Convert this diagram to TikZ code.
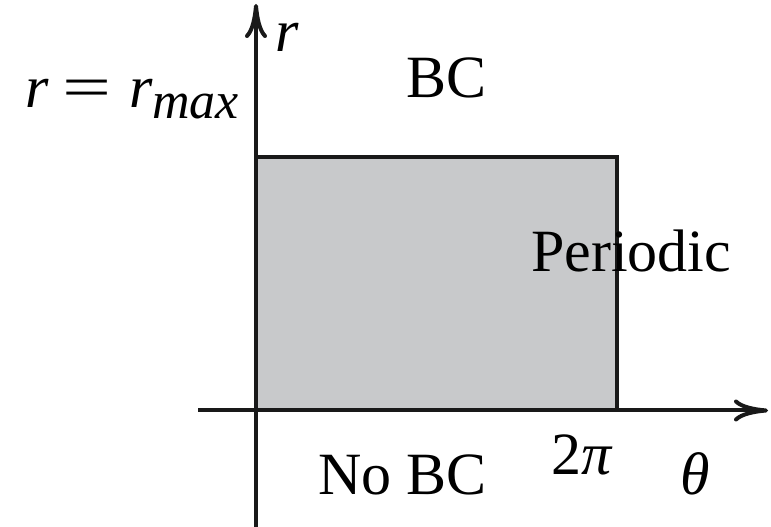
\documentclass[tikz,border=0pt]{standalone}
\usepackage{fontspec}
\usepackage{graphicx}
\setmainfont{Liberation Serif}[ItalicFont={Liberation Serif Italic}]
\newfontfamily\itserif{Liberation Serif Italic}
\usetikzlibrary{arrows.meta}
\definecolor{regiongray}{RGB}{200,201,203}
\newcommand{\wideeq}{\scalebox{1.45}[1]{=}}
\begin{document}
\begin{tikzpicture}[x=1pt,y=1pt,
  axis/.style={line width=4pt,draw=black!90,-{To[length=34pt,width=22pt]}},
  lbl/.style={inner sep=0pt,anchor=base west,font=\fontsize{60}{64}\selectfont},
  eqlbl/.style={inner sep=0pt,anchor=base west,font=\fontsize{60}{64}\selectfont},
  sublbl/.style={inner sep=0pt,anchor=base west,font=\fontsize{52}{56}\selectfont\itserif}]
\useasboundingbox (0,0) rectangle (771,527);
% region
\coordinate (o) at (256,116.5);
\coordinate (tr) at (617,370);
\fill[regiongray] (o) rectangle (tr);
\draw[line width=4pt,draw=black!90] (256,370) -- (tr) -- (617,116.5);
% axes
\coordinate (xs) at (198,116.5);
\coordinate (xe) at (768,116.5);
\coordinate (ys) at (256,0);
\coordinate (ye) at (256,523);
\draw[axis] (xs) -- (xe);
\draw[axis] (ys) -- (ye);
% labels
\node[lbl] (bc) at (406,429) {BC};
\node[lbl] (per) at (531,255) {Periodic};
\node[lbl] (nobc) at (318,32) {No BC};
\node[lbl] (twopi) at (551,52) {2{\itserif π}};
\node[lbl] (theta) at (680,32) {\itserif θ};
\node[lbl] (rlab) at (275,475) {\itserif r};
\node[eqlbl] (req) at (25,419) {{\itserif r}\hspace{14pt}\wideeq\hspace{18pt}{\itserif r}};
\node[sublbl] (rmax) at (req.base east) [xshift=-1pt,yshift=-11pt] {max};
\end{tikzpicture}
\end{document}
